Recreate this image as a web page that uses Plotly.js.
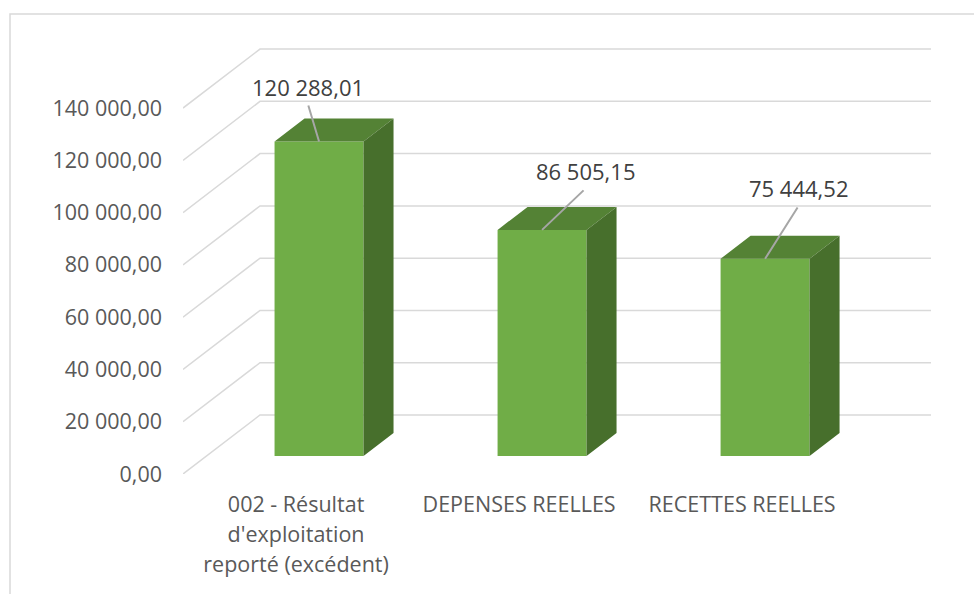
<!DOCTYPE html>
<html><head><meta charset="utf-8">
<script src="https://cdn.plot.ly/plotly-3.0.1.min.js"></script>
<style>html,body{margin:0;padding:0;background:#fff}</style></head>
<body><div id="chart" style="width:974px;height:594px"></div>
<script>
const categories = ["002 - Résultat<br>d'exploitation<br>reporté (excédent)", "DEPENSES REELLES", "RECETTES REELLES"];
const values = [120288.01, 86505.15, 75444.52];
const valueLabels = ["120 288,01", "86 505,15", "75 444,52"];
const yTicks = [0, 20000, 40000, 60000, 80000, 100000, 120000, 140000];
const labelOffsets = [[-11, -55], [43, -59], [33, -71]];
const leaderOffsets = [[-11, -37], [42, -40], [33, -52]];

// pseudo-3D geometry, in axis units
const xRange = [-0.61, 2.744], yRange = [0, 162970];
const wallDx = 0.3453, wallDy = 22570;
const barWidth = 0.399, barBase = 6885, depthDx = 0.1345, depthDy = 8800, labelShift = 0.103;
const pos = categories.map((_, i) => i);
const FONT = 'Open Sans', SIZE = 21.5;
const sized = s => s.split('<br>').map(l => `<span style="font-size:${SIZE}px">${l}</span>`).join('<br>');

const gridShapes = yTicks.map(v => ({
  type: 'path', layer: 'below', xref: 'x', yref: 'y',
  path: `M${xRange[0]},${v} L${xRange[0] + wallDx},${v + wallDy} L${xRange[1]},${v + wallDy}`,
  line: {color: '#d9d9d9', width: 1.5}
}));
const xpx = p => (p - 183) / 748, ypx = p => (474 - p) / 426;
const frame = {
  type: 'path', layer: 'below', xref: 'paper', yref: 'paper',
  path: `M${xpx(10)},${ypx(594)} L${xpx(10)},${ypx(14)} L${xpx(974)},${ypx(14)}`,
  line: {color: '#d9d9d9', width: 1.5}
};

function poly(fn) {
  const xs = [], ys = [];
  values.forEach((v, i) => {
    fn(pos[i] - barWidth / 2, pos[i] + barWidth / 2, barBase, barBase + v).forEach(p => { xs.push(p[0]); ys.push(p[1]); });
    xs.push(null); ys.push(null);
  });
  return {x: xs, y: ys};
}
const top_ = poly((l, r, b, t) => [[l, t], [r, t], [r + depthDx, t + depthDy], [l + depthDx, t + depthDy], [l, t]]);
const side = poly((l, r, b, t) => [[r, b], [r, t], [r + depthDx, t + depthDy], [r + depthDx, b + depthDy], [r, b]]);

const traces = [
  {type: 'bar', x: pos, y: values, base: values.map(() => barBase), width: barWidth,
   marker: {color: '#70ad47', line: {width: 0}}, hoverinfo: 'skip'},
  {type: 'scatter', mode: 'lines', x: top_.x, y: top_.y, fill: 'toself', fillcolor: '#548235',
   line: {width: 0, color: '#548235'}, hoverinfo: 'skip'},
  {type: 'scatter', mode: 'lines', x: side.x, y: side.y, fill: 'toself', fillcolor: '#476f2c',
   line: {width: 0, color: '#476f2c'}, hoverinfo: 'skip'}
];

const labelNotes = values.map((v, i) => ({
  x: pos[i], y: barBase + v, xref: 'x', yref: 'y', text: valueLabels[i],
  showarrow: false, xanchor: 'center', yanchor: 'middle',
  xshift: labelOffsets[i][0], yshift: -labelOffsets[i][1],
  font: {family: FONT, size: 22, color: '#404040'}
}));
const leaderNotes = values.map((v, i) => ({
  x: pos[i], y: barBase + v, xref: 'x', yref: 'y', text: ' ',
  showarrow: true, arrowhead: 0, arrowwidth: 2, arrowcolor: '#a6a6a6',
  ax: leaderOffsets[i][0], ay: leaderOffsets[i][1], borderpad: 0,
  font: {family: FONT, size: 1, color: '#404040'}
}));

Plotly.newPlot('chart', traces, {
  width: 974, height: 594, showlegend: false,
  paper_bgcolor: '#fff', plot_bgcolor: 'rgba(0,0,0,0)',
  margin: {l: 183, r: 43, t: 48, b: 120, pad: 0},
  separators: ', ',
  xaxis: {range: xRange, tickmode: 'array', tickvals: pos.map(p => p - labelShift), ticktext: categories.map(sized),
    showgrid: false, zeroline: false, showline: false, ticks: '', tickangle: 0, automargin: false,
    ticklabelstandoff: 14, tickfont: {family: FONT, size: 23, color: '#595959'}},
  yaxis: {range: yRange, tickmode: 'array', tickvals: yTicks, tickformat: ',.2f',
    showgrid: false, zeroline: false, showline: false, ticks: '', automargin: false,
    ticklabelstandoff: 20, tickfont: {family: FONT, size: SIZE, color: '#595959'}},
  shapes: [frame, ...gridShapes],
  annotations: [...leaderNotes, ...labelNotes]
}, {displayModeBar: false, staticPlot: true});
</script></body></html>
